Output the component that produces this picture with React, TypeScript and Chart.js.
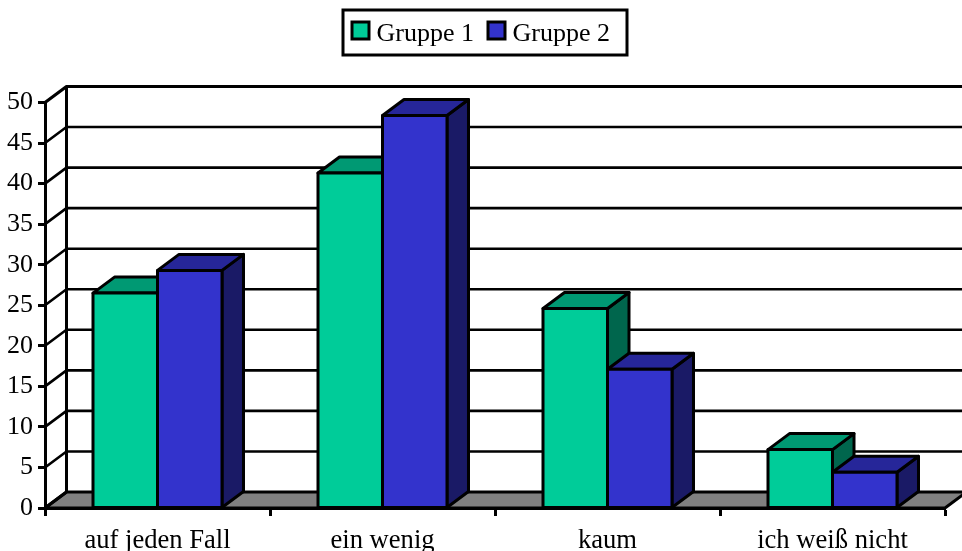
import React, { useEffect, useRef } from "react";
import { Chart, registerables } from "chart.js";

Chart.register(...registerables);

const categories = ["auf jeden Fall", "ein wenig", "kaum", "ich weiß nicht"];
const gruppe1 = [26.5, 41.3, 24.6, 7.2];
const gruppe2 = [29.3, 48.4, 17.1, 4.4];
const seriesNames = ["Gruppe 1", "Gruppe 2"];

const FRONT = ["#00CC99", "#3333CC"];
const TOP = ["#009973", "#262699"];
const SIDE = ["#00664D", "#1A1A66"];
const FLOOR = "#808080";
const FONT = '26px "Liberation Serif"';
const DX = 21.5;
const DY = -16;
const LINE = 3;

function poly(ctx: CanvasRenderingContext2D, pts: number[][], fill: string | null, width = LINE) {
  ctx.beginPath();
  pts.forEach(([x, y], i) => (i ? ctx.lineTo(x, y) : ctx.moveTo(x, y)));
  ctx.closePath();
  if (fill) {
    ctx.fillStyle = fill;
    ctx.fill();
  }
  ctx.strokeStyle = "#000";
  ctx.lineWidth = width;
  ctx.stroke();
}

function segment(ctx: CanvasRenderingContext2D, pts: number[][], width: number) {
  ctx.beginPath();
  pts.forEach(([x, y], i) => (i ? ctx.lineTo(x, y) : ctx.moveTo(x, y)));
  ctx.strokeStyle = "#000";
  ctx.lineWidth = width;
  ctx.stroke();
}

// Back wall, floor and the gridlines that wrap around the left wall.
const room = {
  id: "room",
  beforeDraw(chart: any) {
    const { ctx, scales, chartArea, width, height } = chart;
    const y = scales.y;
    const { left, right, bottom } = chartArea;
    ctx.save();
    ctx.fillStyle = "#fff";
    ctx.fillRect(0, 0, width, height);
    ctx.lineJoin = "round";

    poly(ctx, [[left, bottom], [right, bottom], [right + DX, bottom + DY], [left + DX, bottom + DY]], FLOOR);

    for (const tick of y.ticks) {
      if (tick.value === 0) continue;
      const py = y.getPixelForValue(tick.value);
      const isTop = tick.value === y.max;
      segment(ctx, [[left, py], [left + DX, py + DY], [width + 5, py + DY]], isTop ? 3.2 : 2.6);
    }
    segment(ctx, [[left + DX, y.getPixelForValue(y.max) + DY], [left + DX, bottom + DY]], LINE);
    segment(ctx, [[left, bottom], [left + DX, bottom + DY]], LINE);
    ctx.restore();
  },
  // Top and side faces: first series first, so the second sits in front of it.
  beforeDatasetsDraw(chart: any) {
    const { ctx } = chart;
    ctx.save();
    ctx.lineJoin = "round";
    [0, 1].forEach((d) => {
      chart.getDatasetMeta(d).data.forEach((bar: any) => {
        const x0 = bar.x - bar.width / 2;
        const x1 = bar.x + bar.width / 2;
        poly(ctx, [[x1, bar.y], [x1 + DX, bar.y + DY], [x1 + DX, bar.base + DY], [x1, bar.base]], SIDE[d]);
        poly(ctx, [[x0, bar.y], [x1, bar.y], [x1 + DX, bar.y + DY], [x0 + DX, bar.y + DY]], TOP[d]);
      });
    });
    ctx.restore();
  },
  // Outlines of the front faces and the framed legend.
  afterDatasetsDraw(chart: any) {
    const { ctx } = chart;
    ctx.save();
    ctx.lineJoin = "round";
    [1, 0].forEach((d) => {
      chart.getDatasetMeta(d).data.forEach((bar: any) => {
        const x0 = bar.x - bar.width / 2;
        const x1 = bar.x + bar.width / 2;
        poly(ctx, [[x0, bar.y], [x1, bar.y], [x1, bar.base], [x0, bar.base]], null);
      });
    });

    ctx.lineJoin = "miter";
    ctx.fillStyle = "#fff";
    ctx.fillRect(343, 10, 284, 45);
    ctx.strokeStyle = "#000";
    ctx.lineWidth = LINE;
    ctx.strokeRect(343, 10, 284, 45);
    ctx.font = FONT;
    ctx.textBaseline = "alphabetic";
    ctx.textAlign = "left";
    seriesNames.forEach((name, i) => {
      const x = i === 0 ? 352 : 488;
      ctx.fillStyle = FRONT[i];
      ctx.fillRect(x, 22, 17, 17);
      ctx.strokeRect(x, 22, 17, 17);
      ctx.fillStyle = "#000";
      ctx.fillText(name, x + 24.5, 41);
    });
    ctx.restore();
  },
};

export default function App() {
  const ref = useRef<HTMLCanvasElement>(null);

  useEffect(() => {
    const chart = new Chart(ref.current!, {
      type: "bar",
      data: {
        labels: categories,
        datasets: [
          { label: seriesNames[0], data: gruppe1, backgroundColor: FRONT[0] },
          { label: seriesNames[1], data: gruppe2, backgroundColor: FRONT[1] },
        ],
      },
      options: {
        animation: false,
        responsive: false,
        layout: { padding: { top: 102.5, right: 17, left: 0, bottom: 0 } },
        datasets: { bar: { categoryPercentage: 0.5733, barPercentage: 1, borderWidth: 0 } },
        plugins: { legend: { display: false }, tooltip: { enabled: false } },
        scales: {
          x: {
            afterFit: (s: any) => {
              s.height = 43;
            },
            border: { display: true, color: "#000", width: LINE },
            grid: { drawOnChartArea: false, drawTicks: true, tickLength: 8, tickColor: "#000", tickWidth: LINE },
            ticks: { color: "#000", font: { family: "Liberation Serif", size: 26.6 }, maxRotation: 0, autoSkip: false, padding: 9 },
          },
          y: {
            min: 0,
            max: 50,
            afterFit: (s: any) => {
              s.width = 45;
            },
            border: { display: true, color: "#000", width: LINE },
            grid: { drawOnChartArea: false, drawTicks: true, tickLength: 7, tickColor: "#000", tickWidth: LINE },
            ticks: { stepSize: 5, color: "#000", font: { family: "Liberation Serif", size: 26 }, padding: 5 },
          },
        },
      },
      plugins: [room],
    } as any);
    return () => chart.destroy();
  }, []);

  return (
    <div style={{ position: "fixed", left: 0, top: 0, width: 962, height: 551, background: "#fff" }}>
      <canvas ref={ref} width={962} height={551} style={{ display: "block" }} />
    </div>
  );
}
